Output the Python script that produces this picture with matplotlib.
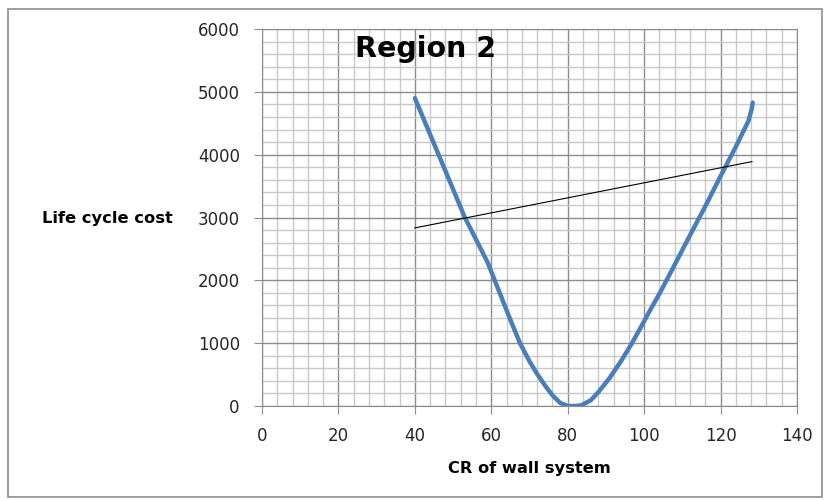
import numpy as np
import matplotlib.pyplot as plt
from matplotlib.patches import Rectangle
from matplotlib.ticker import MultipleLocator

# life cycle cost curve
cr = [40, 44, 48, 53, 56, 59, 62, 65, 67.5, 70, 72, 74, 76, 78, 80, 82, 83.5,
      86, 88, 91, 94, 96.8, 99, 101.5, 104.2, 108, 112, 116, 120, 124,
      127.3, 128.1, 128.4]
lcc = [4900, 4320, 3740, 3010, 2650, 2290, 1830, 1370, 1000, 710, 510, 330, 170, 50, 0, 0, 10,
       90, 220, 450, 720, 1000, 1240, 1520, 1810, 2250, 2720, 3180, 3660, 4130,
       4540, 4720, 4830]

# thin straight line
line_x = [40, 128.2]
line_y = [2835, 3890]

title = "Region 2"
xlabel = "CR of wall system"
ylabel = "Life cycle cost"

fig = plt.figure(figsize=(8.3, 5.01), dpi=100)
ax = fig.add_axes([0.3157, 0.1896, 0.6446, 0.7524])

# chart area border
fig.patches.append(Rectangle((0.0096, 0.008), 0.981, 0.974, transform=fig.transFigure,
                             fill=False, edgecolor='#8c8c8c', linewidth=1.2))

ax.plot(cr, lcc, color='#4a7ebb', linewidth=3.2, solid_capstyle='round',
        solid_joinstyle='round', zorder=3)
ax.plot(line_x, line_y, color='black', linewidth=0.8, zorder=3)

ax.set_xlim(0, 140)
ax.set_ylim(0, 6000)
ax.xaxis.set_major_locator(MultipleLocator(20))
ax.xaxis.set_minor_locator(MultipleLocator(4))
ax.yaxis.set_major_locator(MultipleLocator(1000))
ax.yaxis.set_minor_locator(MultipleLocator(200))

ax.grid(which='major', color='#8c8c8c', linewidth=1.0)
ax.grid(which='minor', color='#c8c8c8', linewidth=1.0)
ax.set_axisbelow(True)

for s in ax.spines.values():
    s.set_color('#8c8c8c')
ax.tick_params(which='major', direction='out', length=6, color='#8c8c8c',
               labelsize=12, labelcolor='#262626', pad=10)
ax.tick_params(axis='x', which='major', pad=9)
ax.tick_params(which='minor', length=0)

ax.text(24.3, 5690, title, fontsize=20.5, fontweight='bold', va='center', ha='left')

fig.text(529 / 830, 1 - 468 / 501, xlabel, fontsize=11.7, fontweight='bold',
         ha='center', va='center')
fig.text(107 / 830, 1 - 218 / 501, ylabel, fontsize=11.7, fontweight='bold',
         ha='center', va='center')

fig.savefig('out.png', dpi=100)
